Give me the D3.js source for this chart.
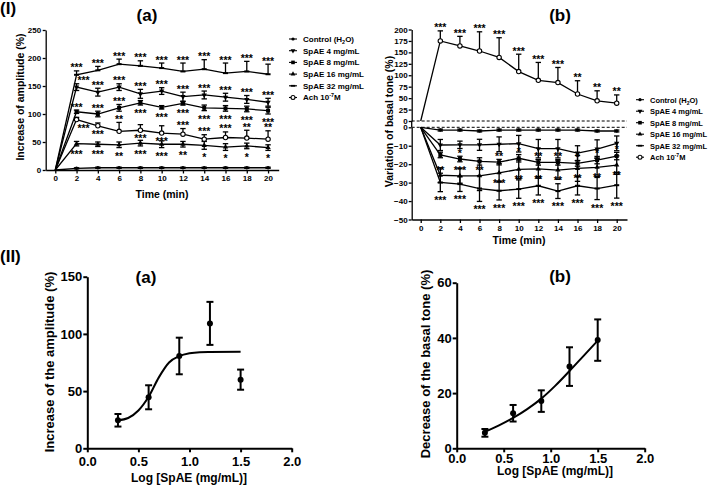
<!DOCTYPE html>
<html><head><meta charset="utf-8">
<script src="https://cdn.jsdelivr.net/npm/d3@7"></script>
<style>
body{margin:0;background:#fff;}
svg{display:block;font-family:"Liberation Sans",Arial,sans-serif;font-weight:bold;}
</style></head><body>
<svg id="c" width="709" height="487"></svg>
<script>
// ---------------- DATA ----------------
const times = [0,2,4,6,8,10,12,14,16,18,20];
const timeTicks = [0,2,4,6,8,10,12,14,16,18,20];
const legendNames = ["Control (H2O)","SpAE 4 mg/mL","SpAE 8 mg/mL","SpAE 16 mg/mL","SpAE 32 mg/mL","Ach 10-7M"];

// Panel I(a): increase of amplitude (%)
const ampTicks = [0,50,100,150,200,250];
const ampControl = [0,3,4,4,4,4,4,4,4,4,4];
const ampControlErr = [0,1,1,1,1,1,1,1,1,1,1];
const amp4 = [0,47,46,45,48,46,46,44,41,43,40];
const amp4Err = [0,4,4,5,5,6,5,7,6,5,5];
const amp8 = [0,104,100,111,120,112,119,111,110,109,106];
const amp8Err = [0,3,5,6,4,3,3,5,5,5,6];
const amp16 = [0,148,139,148,136,141,131,134,130,126,121];
const amp16Err = [0,6,7,6,8,6,8,7,7,7,7];
const amp32 = [0,170,178,189,186,182,176,180,173,176,171];
const amp32Err = [0,7,7,9,9,9,15,17,18,18,18];
const ampAch = [0,90,79,69,71,66,64,55,58,57,55];
const ampAchErr = [0,4,5,16,10,13,10,8,10,14,15];
// significance labels (I a)
const sigA4 = ["","***","***","**","***","***","**","*","*","*","*"];
const sigA8 = ["","***","***","***","***","***","***","***","***","***","***"];
const sigA16 = ["","***","***","***","***","***","***","***","***","***","***"];
const sigA32 = ["","***","***","***","***","***","***","***","***","***","***"];
const sigAAch = ["","***","***","**","***","***","***","***","***","**","**"];
const sideA4 = ["","b","b","b","b","b","b","b","b","b","b"];
const sideA8 = ["","a","a","a","b","b","b","b","b","b","b"];
const sideA16 = ["","ar","a","a","a","a","a","a","a","a","a"];
const sideA32 = ["","a","a","a","a","a","a","a","a","a","a"];
const sideAAch = ["","br","b","a","b","b","a","a","a","a","a"];

// Panel I(b): variation of basal tone (%)
const toneUpTicks = [0,25,50,75,100,125,150,175,200];
const toneLowTicks = [-50,-40,-30,-20,-10,0];
const toneAch = [0,175,164,153,139,108,89,84,59,44,39];
const toneAchErr = [0,22,21,42,43,38,39,33,29,22,18];
const toneControl = [0,-1.5,-1.5,-2,-1.5,-1.5,-1.5,-1.5,-1.5,-2,-2];
const toneControlErr = [0,0.5,0.5,0.5,0.5,0.5,0.5,0.5,0.5,0.5,0.5];
const tone4 = [0,-9.6,-9.5,-9.5,-9.2,-8.9,-11.6,-11.6,-14,-11.8,-8.7];
const tone4Err = [0,3,2,3,4,4.5,5,5,4,5,4];
const tone8 = [0,-15,-17.2,-18.5,-18.9,-16.8,-19,-19,-19.6,-17.8,-15.6];
const tone8Err = [0,1.5,1.5,2,1.5,2,1.5,1.5,1.5,2,2];
const tone16 = [0,-26,-26.3,-26.3,-24.7,-22.8,-22.6,-23.2,-22.3,-21.7,-20.5];
const tone16Err = [0,4,4,8,5,5,5,5,7,5,5];
const tone32 = [0,-29.9,-30.8,-33.2,-34.4,-33.5,-31.7,-34.6,-31.7,-33.2,-31.4];
const tone32Err = [0,5,4,7,5,5,5,4,5,6,7];
const sigBAch = ["","***","***","***","***","***","***","***","**","**","**"];
const sigB8 = ["","","*","","**","*","**","**","*","*","*"];
const sigB16 = ["","**","***","**","***","**","**","**","**","**","**"];
const sigB32 = ["","***","***","***","***","***","***","***","***","***","***"];
const sideBAch = ["","a","a","a","a","a","a","a","a","a","a"];
const sideB8 = ["","a","a","a","a","a","a","a","a","a","a"];
const sideB16 = ["","A","A","A","B","B","B","B","B","B","B"];
const sideB32 = ["","b","b","b","b","b","b","b","b","b","b"];

// Panel II(a): dose–response amplitude
const logTicks = [0,0.5,1,1.5,2];
const ampIITicks = [0,50,100,150];
const logDose = [0.3,0.6,0.9,1.2,1.5];
const ampII = [24.5,44.6,80.7,109.2,60];
const ampIIErr = [5.5,10.5,16,18.8,8.8];
const fitAx = [0.3,0.4,0.5,0.6,0.7,0.8,0.9,1.0,1.1,1.2,1.5];
const fitAy = [24.5,26.5,33,45,62,75,80.5,83,84,84.2,84.4];
// Panel II(b): dose–response basal tone
const toneIITicks = [0,20,40,60];
const toneII = [5.6,12.7,17.1,29.6,39.2];
const toneIIErr = [1.4,3,3.9,7,7.5];
const fitBx = [0.3,0.45,0.6,0.75,0.9,1.05,1.2,1.35,1.5];
const fitBy = [6,8.3,11,14.2,18,22.7,28,33.5,39];

// ---------------- DRAWING ----------------
const svg = d3.select('#c');
const FONT = '"Liberation Sans", Arial, sans-serif';

function styleAxis(g, fs, sw){
  g.attr('font-family', FONT).attr('font-size', fs).attr('font-weight','bold');
  g.selectAll('.domain').attr('stroke-width', sw);
  g.selectAll('.tick line').attr('stroke-width', sw);
  g.selectAll('text').attr('fill','#000');
}

function marker(g, type, x, y, s){
  s = s || 1;
  if(type==='circle') g.append('circle').attr('cx',x).attr('cy',y).attr('r',1.8*s).attr('fill','#000');
  else if(type==='open') g.append('circle').attr('cx',x).attr('cy',y).attr('r',2.2*s).attr('fill','#fff').attr('stroke','#000').attr('stroke-width',1.1);
  else if(type==='square') g.append('rect').attr('x',x-2*s).attr('y',y-2*s).attr('width',4*s).attr('height',4*s).attr('fill','#000');
  else if(type==='tri') g.append('path').attr('d',d3.symbol(d3.symbolTriangle, 12*s*s)()).attr('transform',`translate(${x},${y})`).attr('fill','#000');
  else if(type==='triDown') g.append('path').attr('d',d3.symbol(d3.symbolTriangle, 12*s*s)()).attr('transform',`translate(${x},${y}) rotate(180)`).attr('fill','#000');
  else if(type==='dash') g.append('rect').attr('x',x-2.5*s).attr('y',y-1*s).attr('width',5*s).attr('height',2*s).attr('fill','#000');
}

function drawSeries(g, x, y, s){
  const pts = times.map((t,i)=>[x(t), y(s.v[i])]);
  g.append('path').attr('d', d3.line()(pts)).attr('fill','none').attr('stroke','#000').attr('stroke-width',1.3);
  times.forEach((t,i)=>{
    if(i===0 || !s.e[i]) return;
    const xx = x(t);
    const top = y(s.v[i]+s.e[i]);
    const bot = s.dir==='up' ? y(s.v[i]) : y(s.v[i]-s.e[i]);
    g.append('line').attr('x1',xx).attr('x2',xx).attr('y1',top).attr('y2',bot).attr('stroke','#000').attr('stroke-width',1.3);
    g.append('line').attr('x1',xx-2.7).attr('x2',xx+2.7).attr('y1',top).attr('y2',top).attr('stroke','#000').attr('stroke-width',1.3);
    if(s.dir!=='up') g.append('line').attr('x1',xx-2.7).attr('x2',xx+2.7).attr('y1',bot).attr('y2',bot).attr('stroke','#000').attr('stroke-width',1.3);
  });
  times.forEach((t,i)=>{ if(i>0) marker(g, s.m, x(t), y(s.v[i])); });
  if(s.sig){
    times.forEach((t,i)=>{
      const lab = s.sig[i]; if(!lab) return;
      const side = s.side[i];
      let xx = x(t), yy;
      const c = side[0];
      if(c==='a') yy = y(s.v[i]+s.e[i]) + 0.5;
      else if(c==='b') yy = (s.dir==='up'? y(s.v[i]) : y(s.v[i]-s.e[i])) + 12;
      else if(c==='A') yy = y(s.v[i]) - 1.5;
      else yy = y(s.v[i]) + 14;
      if(side[1]==='r') xx += 7;
      g.append('text').attr('x',xx).attr('y',yy).attr('text-anchor','middle').attr('fill','#000')
        .attr('font-size',10.5).attr('font-weight','bold').text(lab);
    });
  }
}

function legendText(t, name){
  const fs = +t.attr('font-size');
  if(name.indexOf('H2O')>=0){
    t.append('tspan').text('Control (H');
    t.append('tspan').attr('font-size',fs*0.68).attr('dy',2).text('2');
    t.append('tspan').attr('dy',-2).text('O)');
  } else if(name.indexOf('10-7')>=0){
    t.append('tspan').text('Ach 10');
    t.append('tspan').attr('font-size',fs*0.68).attr('dy',-3).text('-7');
    t.append('tspan').attr('dy',3).text('M');
  } else t.text(name);
}
const legMarkers = ['circle','triDown','square','tri','dash','open'];
function legend(g, x0, y0, step, fs){
  legendNames.forEach((n,i)=>{
    const yy = y0 + i*step;
    g.append('line').attr('x1',x0).attr('x2',x0+8).attr('y1',yy).attr('y2',yy).attr('stroke','#000').attr('stroke-width',1.1);
    marker(g, legMarkers[i], x0+4, yy, 0.9);
    const t = g.append('text').attr('x',x0+14).attr('y',yy+2.8).attr('font-size',fs).attr('font-weight','bold').attr('fill','#000');
    legendText(t, n);
  });
}

// ===== Panel I(a) =====
{
  const g = svg.append('g');
  const x = d3.scaleLinear().domain([-0.9,21]).range([45.7,278.7]);
  const y = d3.scaleLinear().domain([0,250]).range([170,30]);
  const ax = g.append('g').attr('transform','translate(0,170)')
    .call(d3.axisBottom(x).tickValues(timeTicks).tickSize(3.5).tickSizeOuter(0).tickPadding(2));
  styleAxis(ax, 8, 1.3);
  const ay = g.append('g').attr('transform','translate(45.7,0)')
    .call(d3.axisLeft(y).tickValues(ampTicks).tickSize(3).tickSizeOuter(0).tickPadding(1.5));
  styleAxis(ay, 8, 1.3);
  const S = [
    {v:ampControl,e:ampControlErr,m:'circle'},
    {v:amp4,e:amp4Err,m:'tri',sig:sigA4,side:sideA4},
    {v:ampAch,e:ampAchErr,m:'open',dir:'up',sig:sigAAch,side:sideAAch},
    {v:amp8,e:amp8Err,m:'square',sig:sigA8,side:sideA8},
    {v:amp16,e:amp16Err,m:'triDown',sig:sigA16,side:sideA16},
    {v:amp32,e:amp32Err,m:'dash',dir:'up',sig:sigA32,side:sideA32}
  ];
  S.forEach(s=>drawSeries(g,x,y,s));
  g.append('text').attr('x',162).attr('y',197.5).attr('text-anchor','middle').attr('font-size',10.5).text('Time (min)');
  g.append('text').attr('transform','translate(24,97) rotate(-90)').attr('text-anchor','middle').attr('font-size',10.5).text('Increase of amplitude (%)');
  g.append('text').attr('x',147).attr('y',20.5).attr('text-anchor','middle').attr('font-size',17).text('(a)');
  g.append('text').attr('x',0).attr('y',14).attr('font-size',17).text('(I)');
  legend(g, 289, 39, 11.7, 8);
}

// ===== Panel I(b) =====
{
  const g = svg.append('g');
  const x = d3.scaleLinear().domain([-0.92,21.05]).range([411.7,627]);
  const yU = d3.scaleLinear().domain([0,200]).range([121,29.5]);
  const yL = d3.scaleLinear().domain([-50,0]).range([219.5,127.3]);
  const ax = g.append('g').attr('transform','translate(0,'+yL(-50)+')')
    .call(d3.axisBottom(x).tickValues(timeTicks).tickSize(3.5).tickSizeOuter(0).tickPadding(2));
  styleAxis(ax, 8, 1.3);
  const au = g.append('g').attr('transform','translate(411.7,0)')
    .call(d3.axisLeft(yU).tickValues(toneUpTicks).tickSize(3).tickSizeOuter(0).tickPadding(1));
  styleAxis(au, 8, 1.3);
  const al = g.append('g').attr('transform','translate(411.7,0)')
    .call(d3.axisLeft(yL).tickValues(toneLowTicks).tickSize(3).tickSizeOuter(0).tickPadding(1));
  styleAxis(al, 8, 1.3);
  g.append('line').attr('x1',411.7).attr('x2',411.7).attr('y1',yU(0)).attr('y2',yL(0)).attr('stroke','#000').attr('stroke-width',1.3);
  [yU(0), yL(0)].forEach(yy=>{
    g.append('line').attr('x1',411.7).attr('x2',627).attr('y1',yy).attr('y2',yy)
      .attr('stroke','#000').attr('stroke-width',1).attr('stroke-dasharray','3,2');
  });
  const SL = [
    {v:toneControl,e:toneControlErr,m:'circle'},
    {v:tone4,e:tone4Err,m:'triDown'},
    {v:tone8,e:tone8Err,m:'square',sig:sigB8,side:sideB8},
    {v:tone16,e:tone16Err,m:'tri',sig:sigB16,side:sideB16},
    {v:tone32,e:tone32Err,m:'dash',sig:sigB32,side:sideB32}
  ];
  SL.forEach(s=>drawSeries(g,x,yL,s));
  drawSeries(g,x,yU,{v:toneAch,e:toneAchErr,m:'open',dir:'up',sig:sigBAch,side:sideBAch});
  g.append('text').attr('x',519).attr('y',244).attr('text-anchor','middle').attr('font-size',10.5).text('Time (min)');
  g.append('text').attr('transform','translate(393,121.5) rotate(-90)').attr('text-anchor','middle').attr('font-size',10.5).text('Variation of basal tone (%)');
  g.append('text').attr('x',560).attr('y',20.5).attr('text-anchor','middle').attr('font-size',17).text('(b)');
  legend(g, 636, 99.7, 11.5, 7.5);
}

// ===== Dose–response panels =====
function dosePanel(x, y, yTicks, vals, errs, fx, fy, pad){
  const g = svg.append('g');
  const ax = g.append('g').attr('transform','translate(0,'+y.range()[0]+')')
    .call(d3.axisBottom(x).tickValues(logTicks).tickFormat(d3.format('.1f')).tickSize(4).tickSizeOuter(0).tickPadding(pad));
  styleAxis(ax, 13, 2);
  const ay = g.append('g').attr('transform','translate('+x.range()[0]+',0)')
    .call(d3.axisLeft(y).tickValues(yTicks).tickSize(4).tickSizeOuter(0).tickPadding(1));
  styleAxis(ay, 13, 2);
  const line = d3.line().x(d=>x(d[0])).y(d=>y(d[1])).curve(d3.curveMonotoneX);
  g.append('path').attr('d', line(fx.map((v,i)=>[v,fy[i]]))).attr('fill','none').attr('stroke','#000').attr('stroke-width',2);
  logDose.forEach((d,i)=>{
    const xx = x(d), t = y(vals[i]+errs[i]), b = y(vals[i]-errs[i]);
    g.append('line').attr('x1',xx).attr('x2',xx).attr('y1',t).attr('y2',b).attr('stroke','#000').attr('stroke-width',2);
    [t,b].forEach(yy=>g.append('line').attr('x1',xx-3.5).attr('x2',xx+3.5).attr('y1',yy).attr('y2',yy).attr('stroke','#000').attr('stroke-width',2));
    g.append('circle').attr('cx',xx).attr('cy',y(vals[i])).attr('r',3).attr('fill','#000');
  });
  return g;
}
{
  const x = d3.scaleLinear().domain([0,2]).range([87.3,291.7]);
  const y = d3.scaleLinear().domain([0,150]).range([448.3,276.7]);
  const g = dosePanel(x, y, ampIITicks, ampII, ampIIErr, fitAx, fitAy, 4);
  g.append('text').attr('x',189).attr('y',482).attr('text-anchor','middle').attr('font-size',12).text('Log [SpAE (mg/mL)]');
  g.append('text').attr('transform','translate(54,362) rotate(-90)').attr('text-anchor','middle').attr('font-size',13).text('Increase of the amplitude (%)');
  g.append('text').attr('x',146).attr('y',283).attr('text-anchor','middle').attr('font-size',17).text('(a)');
  g.append('text').attr('x',0).attr('y',262).attr('font-size',17).text('(II)');
}
{
  const x = d3.scaleLinear().domain([0,2]).range([456.7,644.7]);
  const y = d3.scaleLinear().domain([0,60]).range([448.3,282.7]);
  const g = dosePanel(x, y, toneIITicks, toneII, toneIIErr, fitBx, fitBy, 1.5);
  g.append('text').attr('x',555).attr('y',474.5).attr('text-anchor','middle').attr('font-size',12).text('Log [SpAE (mg/mL)]');
  g.append('text').attr('transform','translate(430,364) rotate(-90)').attr('text-anchor','middle').attr('font-size',13).text('Decrease of the basal tone (%)');
  g.append('text').attr('x',560).attr('y',282).attr('text-anchor','middle').attr('font-size',17).text('(b)');
}
</script>
</body></html>
